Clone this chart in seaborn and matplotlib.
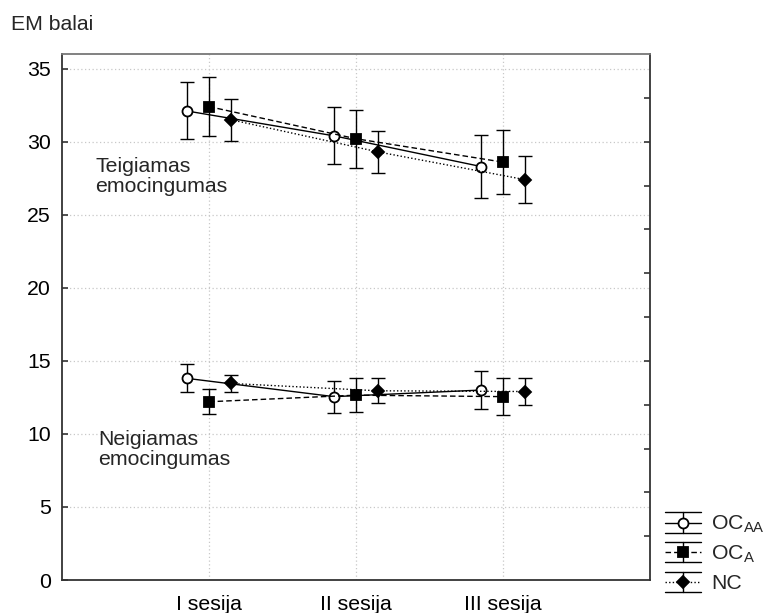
import numpy as np
import pandas as pd
import matplotlib
matplotlib.use("Agg")
import matplotlib.pyplot as plt
from matplotlib.lines import Line2D
from matplotlib.legend_handler import HandlerBase
import seaborn as sns

# Session labels and group names
sessions = ["I sesija", "II sesija", "III sesija"]
group_labels = [r"OC$_{AA}$", r"OC$_{A}$", "NC"]

# Positive emotionality (means and error half-widths per session)
teig_oc_aa = [32.1, 30.4, 28.3]
teig_oc_a = [32.4, 30.2, 28.6]
teig_nc = [31.5, 29.3, 27.4]
teig_oc_aa_err = [1.95, 1.95, 2.15]
teig_oc_a_err = [2.0, 2.0, 2.2]
teig_nc_err = [1.45, 1.45, 1.6]

# Negative emotionality
neig_oc_aa = [13.8, 12.55, 13.0]
neig_oc_a = [12.2, 12.65, 12.55]
neig_nc = [13.45, 12.95, 12.9]
neig_oc_aa_err = [0.95, 1.1, 1.28]
neig_oc_a_err = [0.85, 1.15, 1.27]
neig_nc_err = [0.6, 0.85, 0.95]

y_ticks = [0, 5, 10, 15, 20, 25, 30, 35]

sns.set_theme(style="white")
plt.rcParams["font.family"] = ["Liberation Sans", "DejaVu Sans"]
plt.rcParams["mathtext.default"] = "regular"
FS = 15.3

# per-group styling: offset, line style, marker, face colour, marker size
styles = [
    dict(off=-0.15, ls="-", marker="o", mfc="white", ms=7.2),
    dict(off=0.0, ls=(0, (4, 2.2)), marker="s", mfc="black", ms=7.6),
    dict(off=0.15, ls=(0, (1, 1.6)), marker="D", mfc="black", ms=6.2),
]

rows = []
series = [
    ("teig", [teig_oc_aa, teig_oc_a, teig_nc], [teig_oc_aa_err, teig_oc_a_err, teig_nc_err]),
    ("neig", [neig_oc_aa, neig_oc_a, neig_nc], [neig_oc_aa_err, neig_oc_a_err, neig_nc_err]),
]
for scale, means, errs in series:
    for g, (m, e) in enumerate(zip(means, errs)):
        for s in range(len(sessions)):
            rows.append(dict(scale=scale, group=g, session=s + 1, mean=m[s], err=e[s]))
df = pd.DataFrame(rows)
df["x"] = df["session"] + df["group"].map(lambda g: styles[g]["off"])

fig = plt.figure(figsize=(7.64, 6.13), dpi=100)
ax = fig.add_axes([62 / 764, 1 - 580 / 613, (650 - 62) / 764, (580 - 54) / 613])

for (scale, g), sub in df.groupby(["scale", "group"]):
    st = styles[g]
    ax.errorbar(sub["x"], sub["mean"], yerr=sub["err"], fmt="none", ecolor="black",
                elinewidth=1.0, capsize=5.3, capthick=1.0, zorder=2)
    sns.lineplot(data=sub, x="x", y="mean", ax=ax, color="black", lw=1.0,
                 linestyle=st["ls"], marker=st["marker"], markersize=st["ms"],
                 markerfacecolor=st["mfc"], markeredgecolor="black",
                 markeredgewidth=1.3, zorder=3, legend=False)

ax.set_xlim(0, 4)
ax.set_ylim(0, 36)
ax.set_xticks([1, 2, 3])
ax.set_xticklabels(sessions)
ax.set_yticks(y_ticks)
ax.set_xlabel("")
ax.set_ylabel("")
ax.grid(True, color="#c8c8c8", linestyle=(0, (1, 2)), linewidth=0.9)
ax.set_axisbelow(True)
ax.tick_params(axis="both", direction="in", length=4, width=1.2, colors="#333333",
               labelsize=FS, labelcolor="black", pad=8)
ax.tick_params(axis="x", pad=10.5)
for side, sp in ax.spines.items():
    sp.set_color("#333333" if side != "top" else "#777777")
    sp.set_linewidth(1.3)

# minor ticks on the right spine
ax2 = ax.twinx()
ax2.set_ylim(0, 36)
ax2.set_yticks(np.arange(3, 36, 3))
ax2.tick_params(axis="y", direction="in", length=4, width=1.2, colors="#333333",
                labelright=False)
ax2.grid(False)
for sp in ax2.spines.values():
    sp.set_visible(False)

ax.text(0.225, 28.95, "Teigiamas\nemocingumas", fontsize=FS, va="top", ha="left",
        linespacing=1.05)
ax.text(0.247, 10.27, "Neigiamas\nemocingumas", fontsize=FS, va="top", ha="left",
        linespacing=1.05)

fig.text(11 / 764, 1 - 25 / 613, "EM balai", fontsize=FS, va="center", ha="left")


class ErrKey:
    def __init__(self, ls, marker, mfc, ms):
        self.ls, self.marker, self.mfc, self.ms = ls, marker, mfc, ms


class ErrKeyHandler(HandlerBase):
    def create_artists(self, legend, orig, xdescent, ydescent, width, height,
                       fontsize, trans):
        x0, x1 = -xdescent, -xdescent + width
        xm = (x0 + x1) / 2
        cy = -ydescent + height / 2
        h = 7.3
        arts = [
            Line2D([x0, x1], [cy, cy], color="black", lw=1.0, linestyle=orig.ls),
            Line2D([xm, xm], [cy - h, cy + h], color="black", lw=1.0),
            Line2D([x0, x1], [cy + h, cy + h], color="black", lw=1.0),
            Line2D([x0, x1], [cy - h, cy - h], color="black", lw=1.0),
            Line2D([xm], [cy], marker=orig.marker, markersize=orig.ms,
                   markerfacecolor=orig.mfc, markeredgecolor="black",
                   markeredgewidth=1.3, linestyle="none"),
        ]
        for a in arts:
            a.set_transform(trans)
        return arts


keys = [ErrKey(s["ls"], s["marker"], s["mfc"], s["ms"]) for s in styles]
fig.legend(keys, group_labels, handler_map={ErrKey: ErrKeyHandler()},
           loc="upper left", bbox_to_anchor=(665 / 764, 1 - 513 / 613),
           frameon=False, fontsize=FS, borderpad=0, borderaxespad=0,
           handlelength=1.69, handleheight=1.0, handletextpad=0.47,
           labelspacing=0.36)

fig.savefig("out.png", dpi=100)
